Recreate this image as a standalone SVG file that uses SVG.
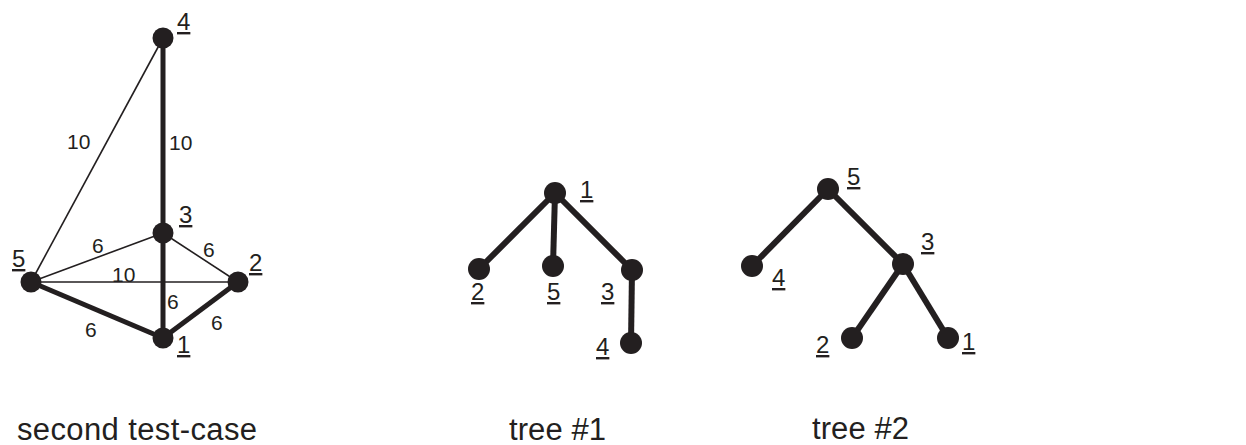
<svg xmlns="http://www.w3.org/2000/svg" width="1246" height="445" viewBox="0 0 1246 445">
<style>
.bg{fill:#fff}
.n{fill:#231f20}
.thin{stroke:#231f20;stroke-width:1.6;fill:none}
.thick{stroke:#231f20;stroke-width:5;fill:none}
.tree{stroke:#231f20;stroke-width:6;fill:none}
.lab{font-family:"Liberation Sans",Arial,sans-serif;font-size:24px;fill:#231f20;text-decoration:underline}
.w{font-family:"Liberation Sans",Arial,sans-serif;font-size:21px;fill:#231f20}
.cap{font-family:"Liberation Sans",Arial,sans-serif;font-size:31px;fill:#231f20}
</style>
<rect class="bg" x="0" y="0" width="1246" height="445"/>
<g id="connectors">
  <line class="thin" x1="163" y1="38" x2="31" y2="282"/>
  <line class="thin" x1="31" y1="282" x2="163" y2="233"/>
  <line class="thin" x1="163" y1="233" x2="238" y2="282"/>
  <line class="thin" x1="31" y1="282" x2="238" y2="282"/>
  <line class="thick" x1="163" y1="38" x2="163" y2="338"/>
  <line class="thick" x1="31" y1="282" x2="163" y2="338"/>
  <line class="thick" x1="163" y1="338" x2="238" y2="282"/>
  <line class="tree" x1="555" y1="193" x2="479" y2="269"/>
  <line class="tree" x1="555" y1="193" x2="553" y2="266"/>
  <line class="tree" x1="555" y1="193" x2="632" y2="270"/>
  <line class="tree" x1="632" y1="270" x2="631" y2="343"/>
  <line class="tree" x1="828" y1="189" x2="752" y2="266"/>
  <line class="tree" x1="828" y1="189" x2="903" y2="264"/>
  <line class="tree" x1="903" y1="264" x2="852" y2="338"/>
  <line class="tree" x1="903" y1="264" x2="948" y2="338"/>
</g>
<g id="edge-labels">
  <text class="w" x="67" y="149">10</text>
  <text class="w" x="169" y="150">10</text>
  <text class="w" x="92" y="253">6</text>
  <text class="w" x="203" y="257">6</text>
  <text class="w" x="112" y="282">10</text>
  <text class="w" x="167" y="309">6</text>
  <text class="w" x="211" y="330">6</text>
  <text class="w" x="85" y="337">6</text>
</g>
<g id="g-node-4"><circle class="n" cx="163" cy="38" r="10.5"/><text class="lab" x="177" y="30">4</text></g>
<g id="g-node-3"><circle class="n" cx="163" cy="233" r="10.5"/><text class="lab" x="179" y="223">3</text></g>
<g id="g-node-5"><circle class="n" cx="31" cy="282" r="10.5"/><text class="lab" x="12" y="267">5</text></g>
<g id="g-node-2"><circle class="n" cx="238" cy="282" r="10.5"/><text class="lab" x="249" y="271">2</text></g>
<g id="g-node-1"><circle class="n" cx="163" cy="338" r="10.5"/><text class="lab" x="177" y="353">1</text></g>

<g id="t1-node-1"><circle class="n" cx="555" cy="193" r="11"/><text class="lab" x="580" y="198">1</text></g>
<g id="t1-node-2"><circle class="n" cx="479" cy="269" r="11"/><text class="lab" x="471" y="300">2</text></g>
<g id="t1-node-5"><circle class="n" cx="553" cy="266" r="11"/><text class="lab" x="547" y="300">5</text></g>
<g id="t1-node-3"><circle class="n" cx="632" cy="270" r="11"/><text class="lab" x="601" y="300">3</text></g>
<g id="t1-node-4"><circle class="n" cx="631" cy="343" r="11"/><text class="lab" x="596" y="355">4</text></g>

<g id="t2-node-5"><circle class="n" cx="828" cy="189" r="11"/><text class="lab" x="847" y="185">5</text></g>
<g id="t2-node-4"><circle class="n" cx="752" cy="266" r="11"/><text class="lab" x="772" y="286">4</text></g>
<g id="t2-node-3"><circle class="n" cx="903" cy="264" r="11"/><text class="lab" x="921" y="250">3</text></g>
<g id="t2-node-2"><circle class="n" cx="852" cy="338" r="11"/><text class="lab" x="816" y="353">2</text></g>
<g id="t2-node-1"><circle class="n" cx="948" cy="338" r="11"/><text class="lab" x="962" y="350">1</text></g>

<g id="captions">
  <text class="cap" x="17" y="440" textLength="240" lengthAdjust="spacing">second test-case</text>
  <text class="cap" x="509" y="440" textLength="97" lengthAdjust="spacing">tree #1</text>
  <text class="cap" x="812" y="439" textLength="97" lengthAdjust="spacing">tree #2</text>
</g>
</svg>
